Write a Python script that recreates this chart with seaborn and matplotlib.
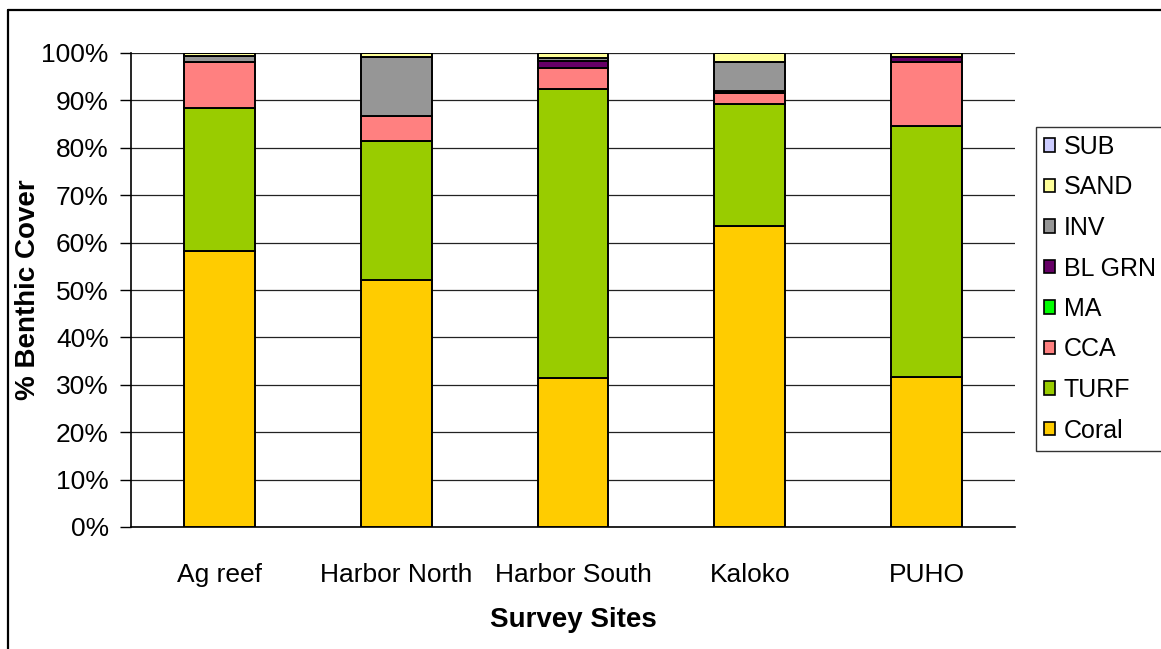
import matplotlib
matplotlib.use("Agg")
import matplotlib.pyplot as plt
import matplotlib.patches as mpatches
from matplotlib.lines import Line2D
import seaborn as sns
import numpy as np
import pandas as pd

# Survey sites and benthic cover (%) per category
sites = ["Ag reef", "Harbor North", "Harbor South", "Kaloko", "PUHO"]
coral = [58.3, 52.1, 31.5, 63.6, 31.6]
turf = [30.1, 29.3, 60.9, 25.6, 53.0]
cca = [9.6, 5.3, 4.4, 2.3, 13.4]
ma = [0.0, 0.0, 0.0, 0.0, 0.0]
bl_grn = [0.0, 0.0, 1.6, 0.4, 1.1]
inv = [1.3, 12.5, 0.6, 6.1, 0.0]
sand = [0.6, 0.8, 1.0, 2.0, 0.9]
sub = [0.1, 0.0, 0.0, 0.0, 0.0]

categories = ["Coral", "TURF", "CCA", "MA", "BL GRN", "INV", "SAND", "SUB"]
series = [coral, turf, cca, ma, bl_grn, inv, sand, sub]
colors = ["#FFCC00", "#99CC00", "#FF8080", "#00FF00", "#660066",
          "#969696", "#FFFF99", "#CCCCFF"]
y_ticks = [0, 10, 20, 30, 40, 50, 60, 70, 80, 90, 100]

sns.set_style("white")
plt.rcParams["font.family"] = ["Liberation Sans", "DejaVu Sans"]
plt.rcParams["text.color"] = "black"
plt.rcParams["axes.labelcolor"] = "black"
plt.rcParams["xtick.color"] = "black"
plt.rcParams["ytick.color"] = "black"

fig = plt.figure(figsize=(11.61, 6.49), dpi=100)
ax = fig.add_axes([131 / 1161, 1 - 527 / 649, (1015 - 131) / 1161, (527 - 53) / 649])

df = pd.DataFrame({"site": sites})
bottom = np.zeros(len(sites))
for name, vals, col in zip(categories, series, colors):
    df[name] = vals
    sns.barplot(data=df, x="site", y=name, bottom=bottom, color=col,
                width=0.4, edgecolor="black", linewidth=1.4, ax=ax,
                saturation=1, zorder=3)
    bottom = bottom + np.array(vals)

ax.set_ylim(0, 100)
ax.set_xlim(-0.5, len(sites) - 0.5)
ax.set_yticks(y_ticks)
ax.set_yticklabels([f"{t}%" for t in y_ticks], fontsize=19)
ax.yaxis.grid(True, color="#222222", linewidth=0.9, zorder=0)
ax.set_axisbelow(True)

# category labels centred, boundary ticks between categories
ax.set_xticks(range(len(sites)))
ax.set_xticklabels(sites, fontsize=19)
ax.tick_params(axis="x", which="major", length=0, pad=26)
ax.set_xticks(np.arange(-0.5, len(sites)), minor=True)
ax.tick_params(axis="x", which="minor", length=7, width=1, color="black",
               direction="out")
ax.tick_params(axis="y", length=8, width=1, color="black", direction="out",
               left=True, pad=8)

for side in ["top", "right"]:
    ax.spines[side].set_visible(False)
for side in ["left", "bottom"]:
    ax.spines[side].set_color("black")
    ax.spines[side].set_linewidth(1.2)

ax.set_xlabel("Survey Sites", fontsize=20, fontweight="bold", labelpad=14)
ax.set_ylabel("% Benthic Cover", fontsize=20, fontweight="bold", labelpad=0)

handles = [mpatches.Patch(facecolor=c, edgecolor="black", linewidth=1.2)
           for c in colors][::-1]
labels = categories[::-1]
leg = fig.legend(handles, labels, loc="upper left",
                 bbox_to_anchor=(1036 / 1161, 1 - 127 / 649),
                 fontsize=18, frameon=True, fancybox=False,
                 edgecolor="black", handlelength=0.45, handleheight=0.45,
                 handletextpad=0.35, labelspacing=0.66, borderpad=0.32,
                 borderaxespad=0)
leg.get_frame().set_linewidth(1.0)

# chart border
fig.add_artist(Line2D([8 / 1161, 8 / 1161], [0, 1 - 10 / 649],
                      transform=fig.transFigure, color="black", linewidth=1.6))
fig.add_artist(Line2D([8 / 1161, 1], [1 - 10 / 649, 1 - 10 / 649],
                      transform=fig.transFigure, color="black", linewidth=1.6))

fig.savefig("out.png", dpi=100)
